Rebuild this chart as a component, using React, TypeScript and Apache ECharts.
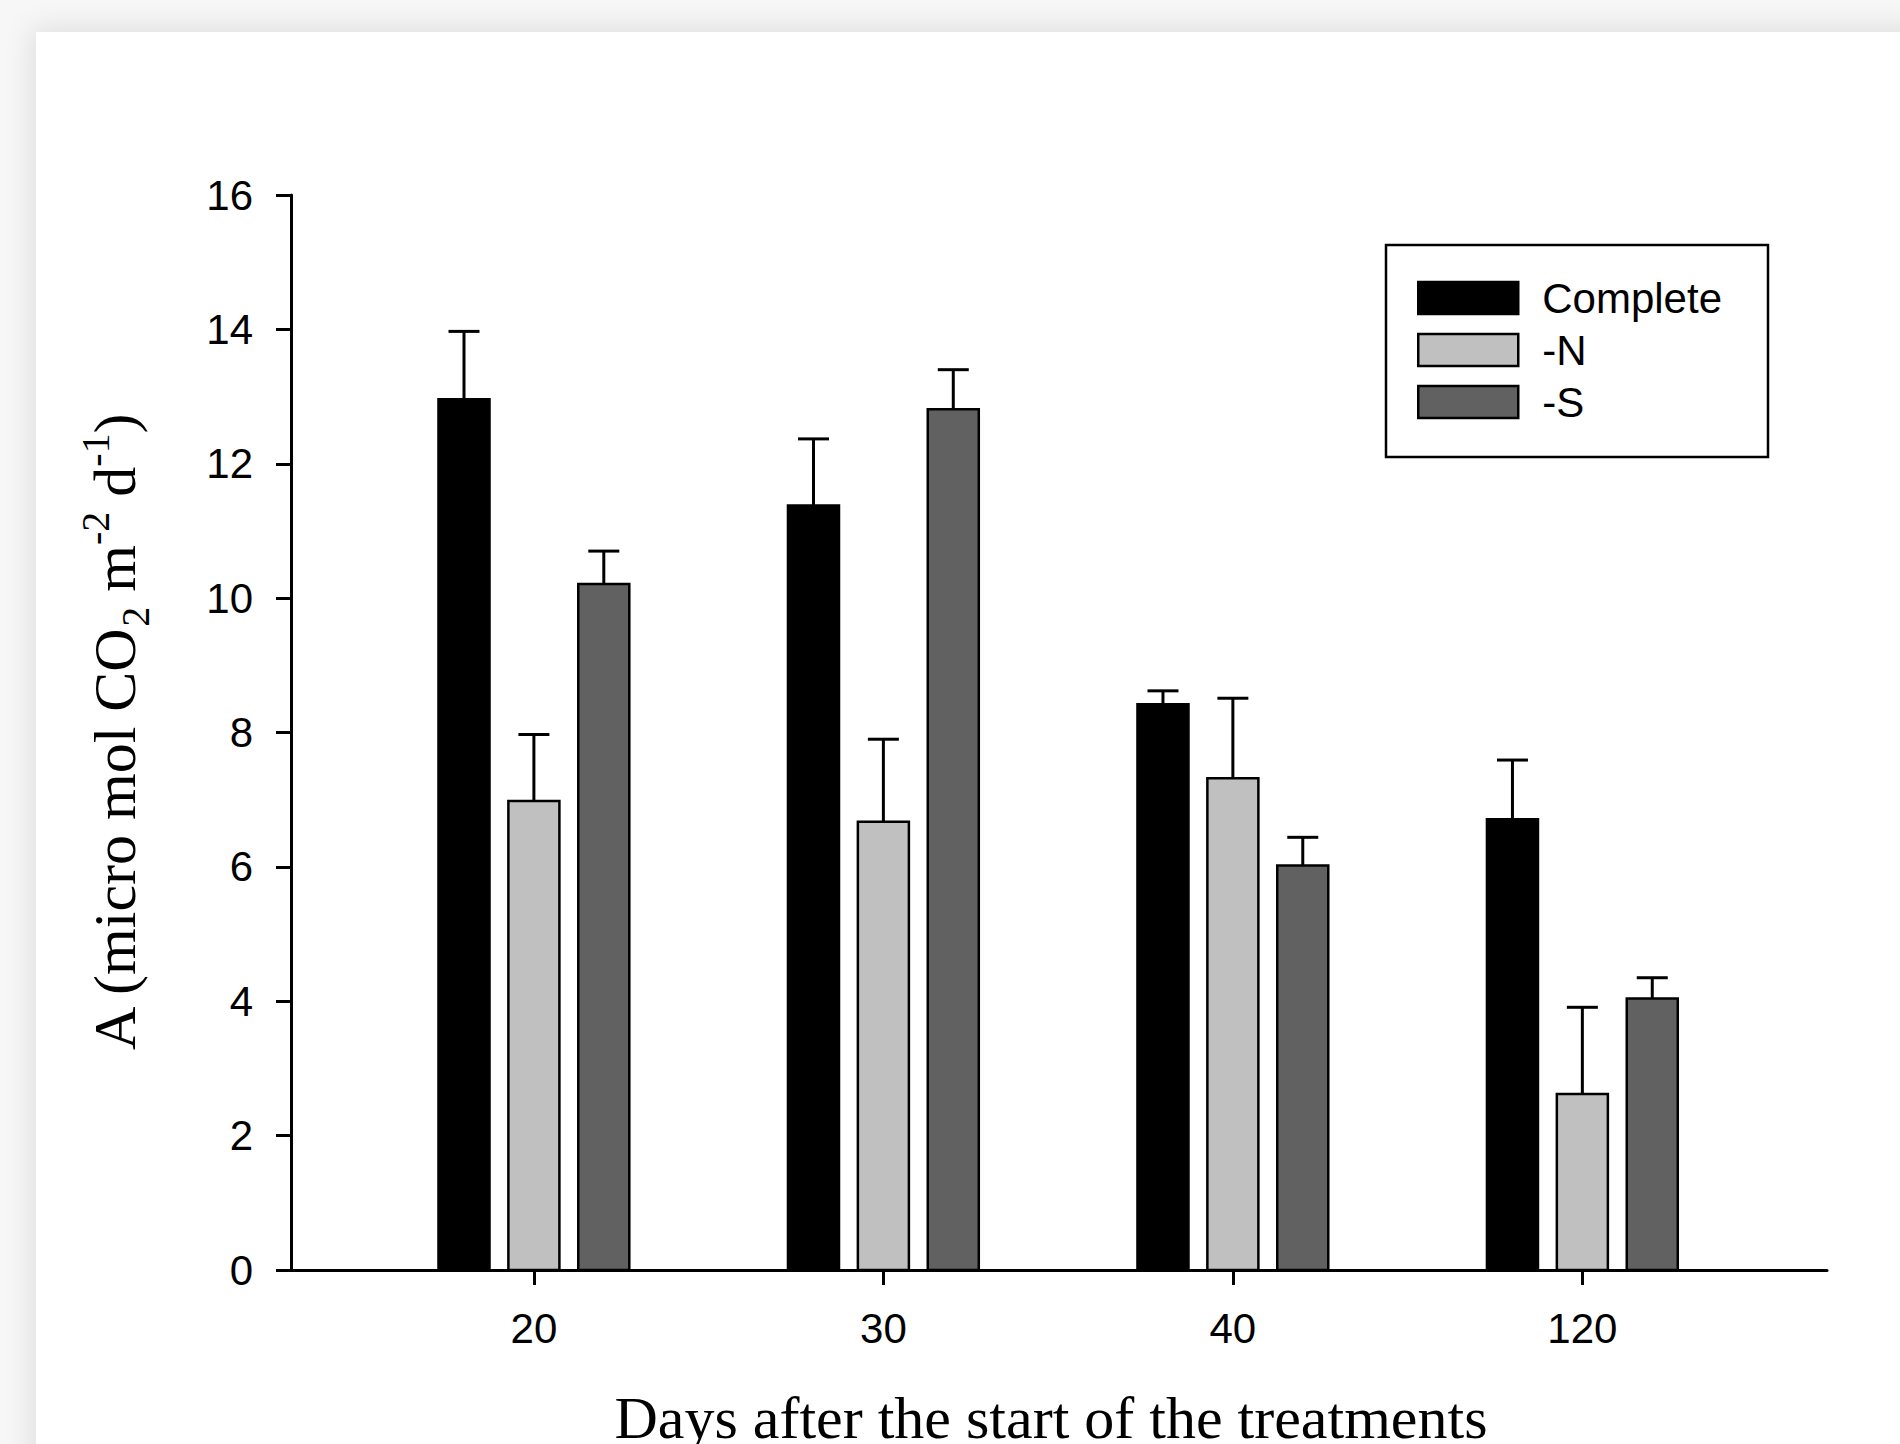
import React, { useEffect, useRef } from 'react';
import * as echarts from 'echarts';

const categories = ['20', '30', '40', '120'];
const seriesNames = ['Complete', '-N', '-S'];
const completeValues = [12.96, 11.38, 8.42, 6.71];
const completeErrors = [1.01, 0.99, 0.2, 0.88];
const minusNValues = [6.98, 6.67, 7.32, 2.62];
const minusNErrors = [0.99, 1.23, 1.19, 1.29];
const minusSValues = [10.21, 12.81, 6.02, 4.04];
const minusSErrors = [0.49, 0.59, 0.42, 0.31];
const yTicks = [0, 2, 4, 6, 8, 10, 12, 14, 16];

const colors = ['#000000', '#c0c0c0', '#616161'];
const valueSets = [completeValues, minusNValues, minusSValues];
const errorSets = [completeErrors, minusNErrors, minusSErrors];
const offsets = [-0.2, 0, 0.2];
const BAR_W = 0.146;
const CAP_PX = 31;

const SANS = '"Liberation Sans", Arial, Helvetica, sans-serif';
const SERIF = '"Liberation Serif", "Times New Roman", Times, serif';

export default function App() {
  const ref = useRef<HTMLDivElement>(null);
  useEffect(() => {
    if (!ref.current) return;
    const chart = echarts.init(ref.current, undefined, { renderer: 'svg' });
    const series = seriesNames.map((name, s) => ({
      type: 'custom',
      name,
      itemStyle: { color: colors[s], borderColor: '#000', borderWidth: 2.5 },
      encode: { x: 0, y: 1 },
      data: categories.map((_, i) => [i, valueSets[s][i], errorSets[s][i]]),
      renderItem: (params: any, api: any) => {
        const idx = api.value(0);
        const val = api.value(1);
        const err = api.value(2);
        const xc = idx + offsets[s];
        const base = api.coord([xc, 0]);
        const top = api.coord([xc, val]);
        const errTop = api.coord([xc, val + err]);
        const unit = api.size([1, 0])[0];
        const w = unit * BAR_W;
        return {
          type: 'group',
          children: [
            {
              type: 'line',
              shape: { x1: top[0], y1: top[1], x2: errTop[0], y2: errTop[1] },
              style: { stroke: '#000', lineWidth: 3 },
            },
            {
              type: 'line',
              shape: { x1: errTop[0] - CAP_PX / 2, y1: errTop[1], x2: errTop[0] + CAP_PX / 2, y2: errTop[1] },
              style: { stroke: '#000', lineWidth: 3 },
            },
            {
              type: 'rect',
              shape: { x: base[0] - w / 2, y: top[1], width: w, height: base[1] - top[1] },
              style: { fill: colors[s], stroke: '#000', lineWidth: 2.5 },
            },
          ],
        };
      },
    }));

    chart.setOption({
      animation: false,
      backgroundColor: 'transparent',
      grid: { left: 291, right: 73, top: 195, bottom: 174, outerBoundsMode: 'none', containLabel: false },
      legend: {
        orient: 'vertical',
        left: 1386,
        top: 245,
        padding: [32, 46, 34, 31],
        borderColor: '#000',
        borderWidth: 2.5,
        itemWidth: 100,
        itemHeight: 32,
        itemGap: 10,
        textStyle: { fontFamily: SANS, fontSize: 42, color: '#000', padding: [0, 0, 0, 19] },
        data: seriesNames.map((n, i) => ({
          name: n,
          icon: 'rect',
          itemStyle: { color: colors[i], borderColor: '#000', borderWidth: 2.5 },
        })),
      },
      xAxis: {
        type: 'value',
        min: -0.695,
        max: 3.7,
        splitLine: { show: false },
        axisLine: { show: true, onZero: false, lineStyle: { color: '#000', width: 3 } },
        axisTick: {
          show: true,
          inside: false,
          length: 15,
          lineStyle: { color: '#000', width: 3 },
          customValues: categories.map((_, i) => i),
        },
        axisLabel: {
          fontFamily: SANS,
          fontSize: 42,
          color: '#000',
          margin: 37,
          customValues: categories.map((_, i) => i),
          formatter: (v: number) => categories[Math.round(v)] ?? '',
        },
        name: 'Days after the start of the treatments',
        nameLocation: 'middle',
        nameGap: 118,
        nameTextStyle: { fontFamily: SERIF, fontSize: 60, color: '#000', padding: [0, 16, 0, 0] },
      },
      yAxis: {
        type: 'value',
        min: yTicks[0],
        max: yTicks[yTicks.length - 1],
        interval: 2,
        splitLine: { show: false },
        axisLine: { show: true, onZero: false, lineStyle: { color: '#000', width: 3 } },
        axisTick: { show: true, inside: false, length: 15, lineStyle: { color: '#000', width: 3 } },
        axisLabel: { fontFamily: SANS, fontSize: 42, color: '#000', margin: 38 },
        name: '{m|A (micro mol CO}{sub|2}{m| m}{sup|-2}{m| d}{sup|-1}{m|)}',
        nameLocation: 'middle',
        nameRotate: 90,
        nameGap: 136,
        nameTextStyle: {
          fontFamily: SERIF,
          fontSize: 60,
          color: '#000',
          rich: {
            m: { fontFamily: SERIF, fontSize: 60, lineHeight: 80, color: '#000' },
            sub: { fontFamily: SERIF, fontSize: 40, lineHeight: 40, verticalAlign: 'bottom', color: '#000' },
            sup: { fontFamily: SERIF, fontSize: 40, lineHeight: 40, verticalAlign: 'top', color: '#000' },
          },
        },
      },
      series,
    });
    return () => chart.dispose();
  }, []);

  return (
    <div style={{ position: 'fixed', left: 0, top: 0, width: 1900, height: 1444, background: '#f7f7f7', overflow: 'hidden' }}>
      <div
        style={{
          position: 'absolute',
          left: 36,
          top: 32,
          width: 1900,
          height: 1444,
          background: '#ffffff',
          boxShadow: '0 0 28px 4px rgba(0,0,0,0.10)',
        }}
      />
      <div ref={ref} style={{ position: 'absolute', left: 0, top: 0, width: 1900, height: 1444 }} />
    </div>
  );
}
